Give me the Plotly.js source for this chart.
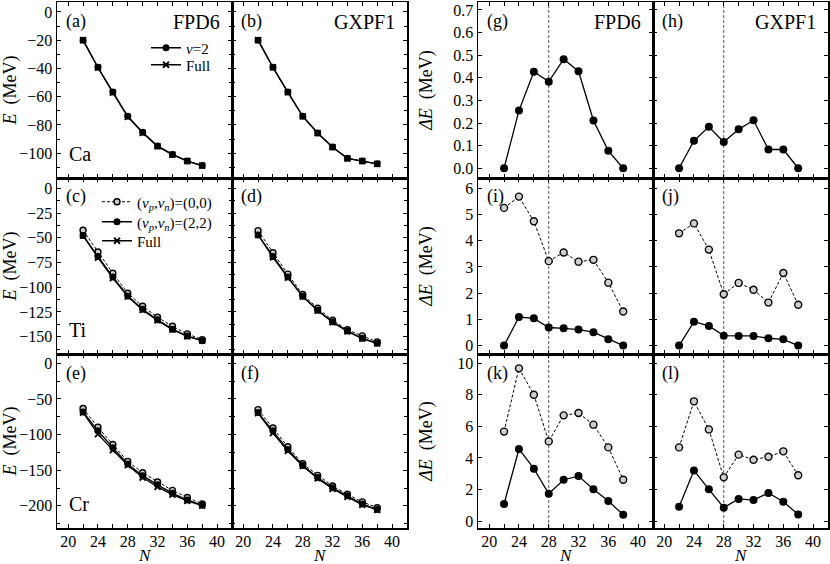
<!DOCTYPE html>
<html>
<head>
<meta charset="utf-8">
<script src="https://cdn.plot.ly/plotly-3.0.1.min.js"></script>
<style>html,body{margin:0;padding:0;background:#fff;}#chart{width:830px;height:564px;}</style>
</head>
<body>
<div id="chart"></div>
<script>
// ---------- data ----------
const N = [22, 24, 26, 28, 30, 32, 34, 36, 38];
const shellClosureN = 28;
const xTickLabels = [20, 24, 28, 32, 36, 40];

// Ca energies (MeV)
const caFpd6V2    = [-20.0, -39.2, -56.7, -73.8, -85.1, -94.8, -100.8, -105.5, -108.7];
const caFpd6Full  = [-20.0, -39.5, -57.1, -74.2, -85.6, -95.2, -101.0, -105.6, -108.7];
const caGxpf1V2   = [-20.0, -39.2, -56.7, -73.8, -85.6, -95.5, -103.6, -105.5, -107.5];
const caGxpf1Full = [-20.0, -39.3, -56.9, -73.9, -85.8, -95.7, -103.7, -105.6, -107.5];

// Ti energies (MeV)
const tiFpd6P00   = [-42.4, -64.4, -85.9, -106.1, -119.3, -130.3, -139.5, -147.2, -153.0];
const tiFpd6P22   = [-47.8, -69.0, -89.7, -108.8, -122.2, -133.0, -142.4, -149.4, -154.0];
const tiFpd6Full  = [-47.8, -70.1, -90.7, -109.5, -122.9, -133.6, -142.9, -149.6, -154.0];
const tiGxpf1P00  = [-42.8, -65.2, -86.8, -107.4, -121.2, -133.3, -143.0, -149.2, -155.2];
const tiGxpf1P22  = [-47.1, -69.0, -89.7, -109.1, -123.2, -135.0, -144.3, -151.7, -156.7];
const tiGxpf1Full = [-47.1, -69.9, -90.4, -109.5, -123.6, -135.4, -144.6, -151.9, -156.7];

// Cr energies (MeV)
const crFpd6P00   = [-63.5, -89.7, -114.0, -137.6, -153.5, -166.4, -178.3, -188.3, -197.3];
const crFpd6P22   = [-68.2, -94.7, -118.5, -141.2, -157.6, -170.5, -182.1, -191.7, -199.1];
const crFpd6Full  = [-69.3, -99.3, -121.8, -142.9, -160.2, -173.3, -184.1, -193.0, -199.5];
const crGxpf1P00  = [-65.0, -90.7, -117.0, -141.0, -157.2, -172.2, -183.7, -194.4, -202.5];
const crGxpf1P22  = [-69.1, -94.8, -121.0, -143.2, -160.1, -174.7, -185.7, -197.3, -205.1];
const crGxpf1Full = [-70.0, -98.0, -123.0, -144.0, -161.5, -176.0, -187.5, -198.5, -205.5];

// Energy differences to full calculation (MeV)
const dCaFpd6      = [0.0, 0.255, 0.427, 0.383, 0.482, 0.429, 0.211, 0.077, 0.0];
const dCaGxpf1     = [0.0, 0.122, 0.183, 0.116, 0.172, 0.212, 0.083, 0.083, 0.0];
const dTiFpd6P00   = [5.25, 5.68, 4.74, 3.22, 3.55, 3.20, 3.27, 2.40, 1.30];
const dTiFpd6P22   = [0.0, 1.09, 1.04, 0.69, 0.66, 0.61, 0.51, 0.24, 0.0];
const dTiGxpf1P00  = [4.28, 4.66, 3.66, 1.96, 2.39, 2.13, 1.64, 2.77, 1.56];
const dTiGxpf1P22  = [0.0, 0.91, 0.75, 0.38, 0.37, 0.37, 0.28, 0.24, 0.0];
const dCrFpd6P00   = [5.67, 9.68, 8.01, 5.05, 6.70, 6.85, 6.11, 4.67, 2.62];
const dCrFpd6P22   = [1.08, 4.57, 3.32, 1.73, 2.62, 2.85, 2.01, 1.27, 0.40];
const dCrGxpf1P00  = [4.67, 7.59, 5.81, 2.77, 4.21, 3.89, 4.08, 4.42, 2.90];
const dCrGxpf1P22  = [0.91, 3.21, 2.01, 0.85, 1.40, 1.33, 1.78, 1.23, 0.42];

const panelLabels = ['(a)','(b)','(c)','(d)','(e)','(f)','(g)','(h)','(i)','(j)','(k)','(l)'];
const modelNames = ['FPD6', 'GXPF1'];
const elementNames = ['Ca', 'Ti', 'Cr'];

// ---------- layout helpers ----------
const W = 830, H = 564;
const px = v => v / W;
const py = v => 1 - v / H;
const colPx = [[57, 232], [232, 407], [478, 653], [653, 828]];
const rowPx = [[2, 178], [178, 354], [354, 528]];
const panelPos = [[0,0],[0,1],[1,0],[1,1],[2,0],[2,1],[0,2],[0,3],[1,2],[1,3],[2,2],[2,3]];
const yRanges = [[-117.5, 7], [-167.5, 10.4], [-231, 13]];
const yDticks = [20, 25, 50];
const yMinor = [10, 12.5, 25];
const dRanges = [[-0.043, 0.735], [-0.32, 6.39], [-0.44, 10.59]];
const dDticks = [0.1, 1, 2];

const FONT = 'Liberation Serif';
const BLACK = '#000';

const fullStyle = {mode: 'lines+markers', line: {color: BLACK, width: 1.3},
  marker: {symbol: 'x-thin-open', size: 6, color: BLACK, line: {color: BLACK, width: 1.8}}};
const filledStyle = {mode: 'lines+markers', line: {color: BLACK, width: 1.3},
  marker: {symbol: 'circle', size: 7, color: BLACK}};
const openStyle = {mode: 'lines+markers', line: {color: BLACK, width: 1, dash: '3px,2px'},
  marker: {symbol: 'circle', size: 6, color: '#cfcfcf', line: {color: BLACK, width: 1.4}}};

function tr(style, x, y, k, extra) {
  const suffix = k === 1 ? '' : String(k);
  return Object.assign({type: 'scatter', x: x, y: y, xaxis: 'x' + suffix, yaxis: 'y' + suffix,
    showlegend: false, hoverinfo: 'skip'}, JSON.parse(JSON.stringify(style)), extra || {});
}
const vpvn = '(<i>v</i><sub><i>p</i></sub>,<i>v</i><sub><i>n</i></sub>)';

const data = [];
// (a) Ca FPD6
data.push(tr(filledStyle, N, caFpd6V2, 1, {name: '<i>v</i>=2', showlegend: true, legend: 'legend'}));
data.push(tr(fullStyle, N, caFpd6Full, 1, {name: 'Full', showlegend: true, legend: 'legend3'}));
// (b) Ca GXPF1
data.push(tr(filledStyle, N, caGxpf1V2, 2));
data.push(tr(fullStyle, N, caGxpf1Full, 2));
// (c) Ti FPD6
data.push(tr(openStyle, N, tiFpd6P00, 3, {name: vpvn + '=(0,0)', showlegend: true, legend: 'legend2'}));
data.push(tr(filledStyle, N, tiFpd6P22, 3, {name: vpvn + '=(2,2)', showlegend: true, legend: 'legend4'}));
data.push(tr(fullStyle, N, tiFpd6Full, 3, {name: 'Full', showlegend: true, legend: 'legend5'}));
// (d) Ti GXPF1
data.push(tr(openStyle, N, tiGxpf1P00, 4));
data.push(tr(filledStyle, N, tiGxpf1P22, 4));
data.push(tr(fullStyle, N, tiGxpf1Full, 4));
// (e) Cr FPD6
data.push(tr(openStyle, N, crFpd6P00, 5));
data.push(tr(filledStyle, N, crFpd6P22, 5));
data.push(tr(fullStyle, N, crFpd6Full, 5));
// (f) Cr GXPF1
data.push(tr(openStyle, N, crGxpf1P00, 6));
data.push(tr(filledStyle, N, crGxpf1P22, 6));
data.push(tr(fullStyle, N, crGxpf1Full, 6));
// (g),(h)
const dFilled = JSON.parse(JSON.stringify(filledStyle)); dFilled.marker.size = 8;
const dOpen = JSON.parse(JSON.stringify(openStyle)); dOpen.marker.size = 7;
data.push(tr(dFilled, N, dCaFpd6, 7));
data.push(tr(dFilled, N, dCaGxpf1, 8));
// (i),(j)
data.push(tr(dOpen, N, dTiFpd6P00, 9));
data.push(tr(dFilled, N, dTiFpd6P22, 9));
data.push(tr(dOpen, N, dTiGxpf1P00, 10));
data.push(tr(dFilled, N, dTiGxpf1P22, 10));
// (k),(l)
data.push(tr(dOpen, N, dCrFpd6P00, 11));
data.push(tr(dFilled, N, dCrFpd6P22, 11));
data.push(tr(dOpen, N, dCrGxpf1P00, 12));
data.push(tr(dFilled, N, dCrGxpf1P22, 12));

function legendAt(xPx, yPx) {
  return {x: px(xPx), y: py(yPx), xanchor: 'left', yanchor: 'middle', bgcolor: 'rgba(0,0,0,0)',
    font: {family: FONT, size: 15, color: BLACK}, tracegroupgap: 0, itemwidth: 30, borderwidth: 0};
}

const layout = {
  width: W, height: H,
  margin: {l: 0, r: 0, t: 0, b: 0},
  paper_bgcolor: '#fff', plot_bgcolor: '#fff',
  font: {family: FONT, color: BLACK, size: 16},
  shapes: [], annotations: [],
  legend: legendAt(146, 48),
  legend3: legendAt(146, 65),
  legend2: legendAt(97, 202),
  legend4: legendAt(97, 222),
  legend5: legendAt(97, 241)
};

for (let k = 1; k <= 12; k++) {
  const [r, c] = panelPos[k - 1];
  const suffix = k === 1 ? '' : String(k);
  const isDelta = c >= 2;
  const leftCol = (c === 0 || c === 2);
  const bottomRow = (r === 2);
  layout['xaxis' + suffix] = {
    domain: [px(colPx[c][0]), px(colPx[c][1])], anchor: 'y' + suffix,
    range: [18.5, 42], tickmode: 'array', tickvals: xTickLabels,
    showticklabels: bottomRow, ticks: 'inside', ticklen: 4, tickwidth: 1, tickcolor: BLACK,
    ticklabelstandoff: -2,
    minor: {dtick: 2, tick0: 20, ticks: 'inside', ticklen: 4, tickcolor: BLACK, tickwidth: 1},
    showline: true, linecolor: BLACK, linewidth: 1.5, mirror: 'allticks',
    showgrid: false, zeroline: false, fixedrange: true,
    tickfont: {family: FONT, size: 16, color: BLACK}
  };
  const yr = isDelta ? dRanges[r] : yRanges[r];
  const ya = {
    domain: [py(rowPx[r][1]), py(rowPx[r][0])], anchor: 'x' + suffix,
    range: yr, dtick: isDelta ? dDticks[r] : yDticks[r], tick0: 0,
    showticklabels: leftCol, ticks: 'inside', ticklen: 4, tickwidth: 1, tickcolor: BLACK,
    showline: true, linecolor: BLACK, linewidth: 1.5, mirror: 'allticks',
    showgrid: false, zeroline: false, fixedrange: true,
    tickfont: {family: FONT, size: 16, color: BLACK}
  };
  if (leftCol) {
    ya.title = {text: isDelta ? '<i>ΔE</i>  (MeV)' : '<i>E</i>  (MeV)',
      font: {family: FONT, size: 18, color: BLACK}};
  }
  if (isDelta && r === 0) ya.tickformat = '.1f';
  if (!isDelta) ya.minor = {dtick: yMinor[r], ticks: 'inside', ticklen: 3, tickcolor: BLACK, tickwidth: 1};
  layout['yaxis' + suffix] = ya;

  if (bottomRow) {
    layout.annotations.push({text: '<i>N</i>', xref: 'paper', yref: 'paper',
      x: px((colPx[c][0] + colPx[c][1]) / 2), y: py(555), xanchor: 'center', yanchor: 'middle',
      showarrow: false, borderpad: 0, font: {family: FONT, size: 17, color: BLACK}});
  }
  layout.annotations.push({text: panelLabels[k - 1], xref: 'paper', yref: 'paper',
    x: px(colPx[c][0] + 7), y: py(rowPx[r][0] + 19), xanchor: 'left', yanchor: 'middle',
    showarrow: false, font: {family: FONT, size: 18, color: BLACK}});
  if (r === 0) {
    layout.annotations.push({text: modelNames[c % 2], xref: 'paper', yref: 'paper',
      x: px(colPx[c][1] - 10), y: py(rowPx[r][0] + 20), xanchor: 'right', yanchor: 'middle',
      showarrow: false, font: {family: FONT, size: 20, color: BLACK}});
  }
  if (c === 0) {
    layout.annotations.push({text: elementNames[r], xref: 'paper', yref: 'paper',
      x: px(colPx[c][0] + 10), y: py(rowPx[r][1] - 24), xanchor: 'left', yanchor: 'middle',
      showarrow: false, font: {family: FONT, size: 20, color: BLACK}});
  }
  if (isDelta) {
    layout.shapes.push({type: 'line', xref: 'x' + suffix, yref: 'y' + suffix + ' domain',
      x0: shellClosureN, x1: shellClosureN, y0: 0, y1: 1, layer: 'below',
      line: {color: '#555', width: 1, dash: '3px,2px'}});
  }
}

Plotly.newPlot('chart', data, layout, {staticPlot: true, displayModeBar: false});
</script>
</body>
</html>
